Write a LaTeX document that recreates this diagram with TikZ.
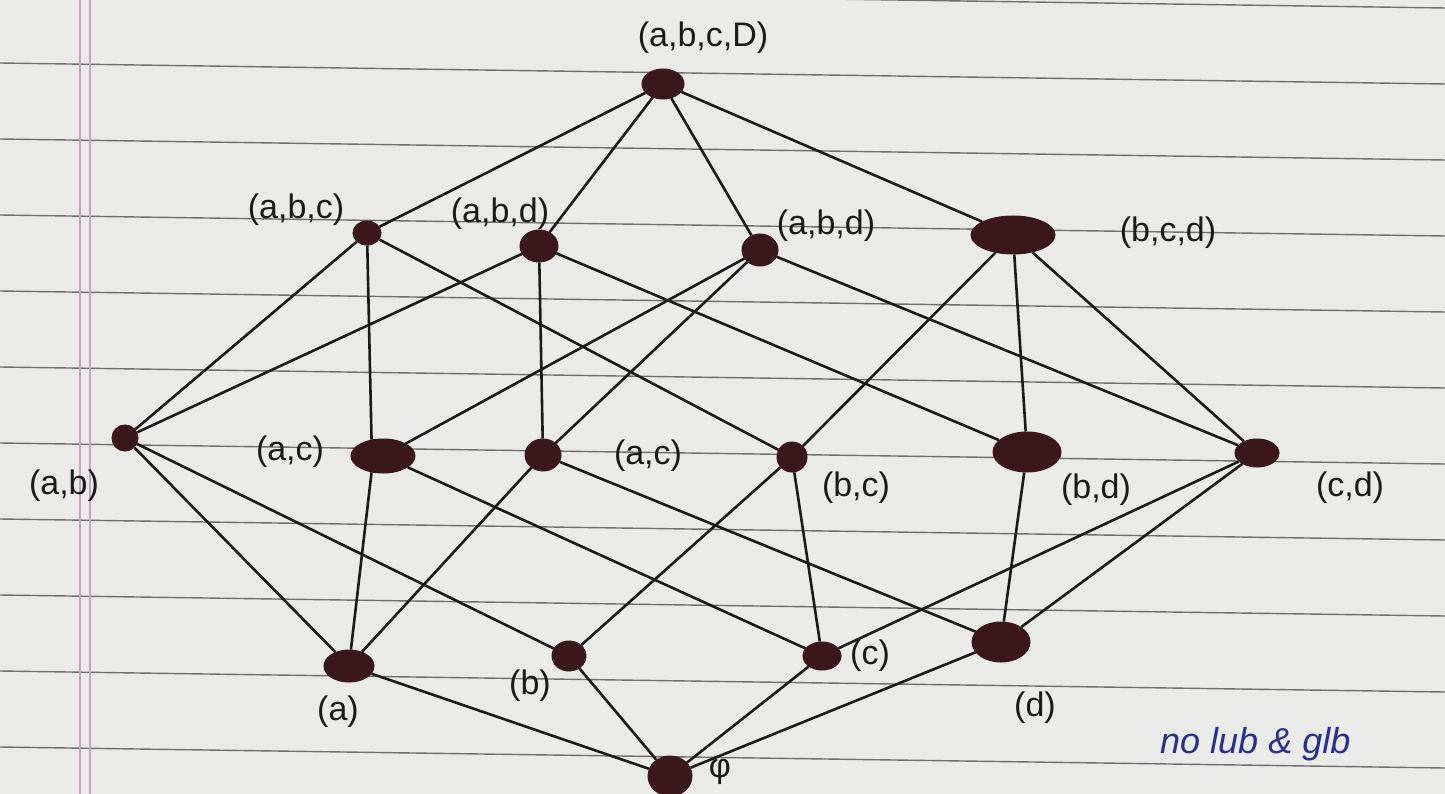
\documentclass[tikz,border=0pt]{standalone}
\usepackage{fontspec}
\setmainfont{Liberation Sans}
\usetikzlibrary{shapes.geometric}
\definecolor{paper}{HTML}{EAEAE8}
\definecolor{rule}{HTML}{6E6E6E}
\definecolor{margin}{HTML}{C9A3C4}
\definecolor{dot}{HTML}{3A171B}
\definecolor{ink}{HTML}{1B1A1A}
\definecolor{blueink}{HTML}{27308A}
\tikzset{
  vtx/.style={ellipse, fill=dot, draw=dot, line width=1pt, inner sep=0pt},
  edge/.style={draw=ink, line width=2.6pt},
  lbl/.style={font=\fontsize{34}{40}\selectfont, text=ink, inner sep=0pt},
  note/.style={font=\fontsize{36}{42}\selectfont\itshape, text=blueink, inner sep=0pt, anchor=west}
}
\begin{document}
\begin{tikzpicture}[x=1pt,y=-1pt]
\useasboundingbox (0,0) rectangle (1445,794);
\fill[paper] (0,0) rectangle (1445,794);
% ruled paper
\foreach \yy in {-13,63,139,215,291,367,443,519,595,671,747}
  \draw[rule, line width=1.4pt] (0,\yy) -- (1445,\yy+21);
\draw[margin, line width=1.6pt] (80,0) -- (80,794);
\draw[margin, line width=1.6pt] (90,0) -- (90,794);
% vertices
\node[vtx, minimum width=42pt, minimum height=30pt] (top) at (663,84) {};
\node[vtx, minimum width=28pt, minimum height=24pt] (abc) at (367,233) {};
\node[vtx, minimum width=38pt, minimum height=32pt] (abd) at (539,246) {};
\node[vtx, minimum width=36pt, minimum height=32pt] (acd) at (760,250) {};
\node[vtx, minimum width=84pt, minimum height=38pt] (bcd) at (1013,235) {};
\node[vtx, minimum width=26pt, minimum height=26pt] (ab) at (125,438) {};
\node[vtx, minimum width=64pt, minimum height=34pt] (ac1) at (383,456) {};
\node[vtx, minimum width=36pt, minimum height=32pt] (ac2) at (543,455) {};
\node[vtx, minimum width=30pt, minimum height=30pt] (bc) at (792,457) {};
\node[vtx, minimum width=68pt, minimum height=40pt] (bd) at (1027,452) {};
\node[vtx, minimum width=44pt, minimum height=28pt] (cd) at (1257,453) {};
\node[vtx, minimum width=50pt, minimum height=32pt] (a) at (349,666) {};
\node[vtx, minimum width=34pt, minimum height=30pt] (b) at (569,656) {};
\node[vtx, minimum width=38pt, minimum height=28pt] (c) at (822,656) {};
\node[vtx, minimum width=58pt, minimum height=40pt] (d) at (1001,642) {};
\node[vtx, minimum width=44pt, minimum height=40pt] (bot) at (670,776) {};
% edges
\draw[edge] (abc) -- (ac1.125);
\draw[edge] (ac1.235) -- (a);
\foreach \u/\v in {top/abc, top/abd, top/acd, top/bcd,
  abc/ab, abc/bc,
  abd/ab, abd/ac2, abd/bd,
  acd/ac1, acd/ac2, acd/cd,
  bcd/bc, bcd/bd, bcd/cd,
  ab/a, ab/b, ac1/c, ac2/a, ac2/d,
  bc/b, bc/c, bd/d, cd/c, cd/d,
  a/bot, b/bot, c/bot, d/bot}
  \draw[edge] (\u) -- (\v);
% labels
\node[lbl] (Ltop) at (703,38) {(a,b,c,D)};
\node[lbl] (Labc) at (296,210) {(a,b,c)};
\node[lbl] (Labd) at (500,214) {(a,b,d)};
\node[lbl] (Lacd) at (826,226) {(a,b,d)};
\node[lbl] (Lbcd) at (1168,233) {(b,c,d)};
\node[lbl] (Lab) at (64,486) {(a,b)};
\node[lbl] (Lac1) at (290,452) {(a,c)};
\node[lbl] (Lac2) at (648,456) {(a,c)};
\node[lbl] (Lbc) at (856,488) {(b,c)};
\node[lbl] (Lbd) at (1096,490) {(b,d)};
\node[lbl] (Lcd) at (1350,488) {(c,d)};
\node[lbl] (La) at (338,712) {(a)};
\node[lbl] (Lb) at (530,686) {(b)};
\node[lbl] (Lc) at (870,656) {(c)};
\node[lbl] (Ld) at (1035,708) {(d)};
\node[lbl] (Lbot) at (720,772) {φ};
\node[note] (nt) at (1160,744) {no lub \& glb};
\end{tikzpicture}
\end{document}
